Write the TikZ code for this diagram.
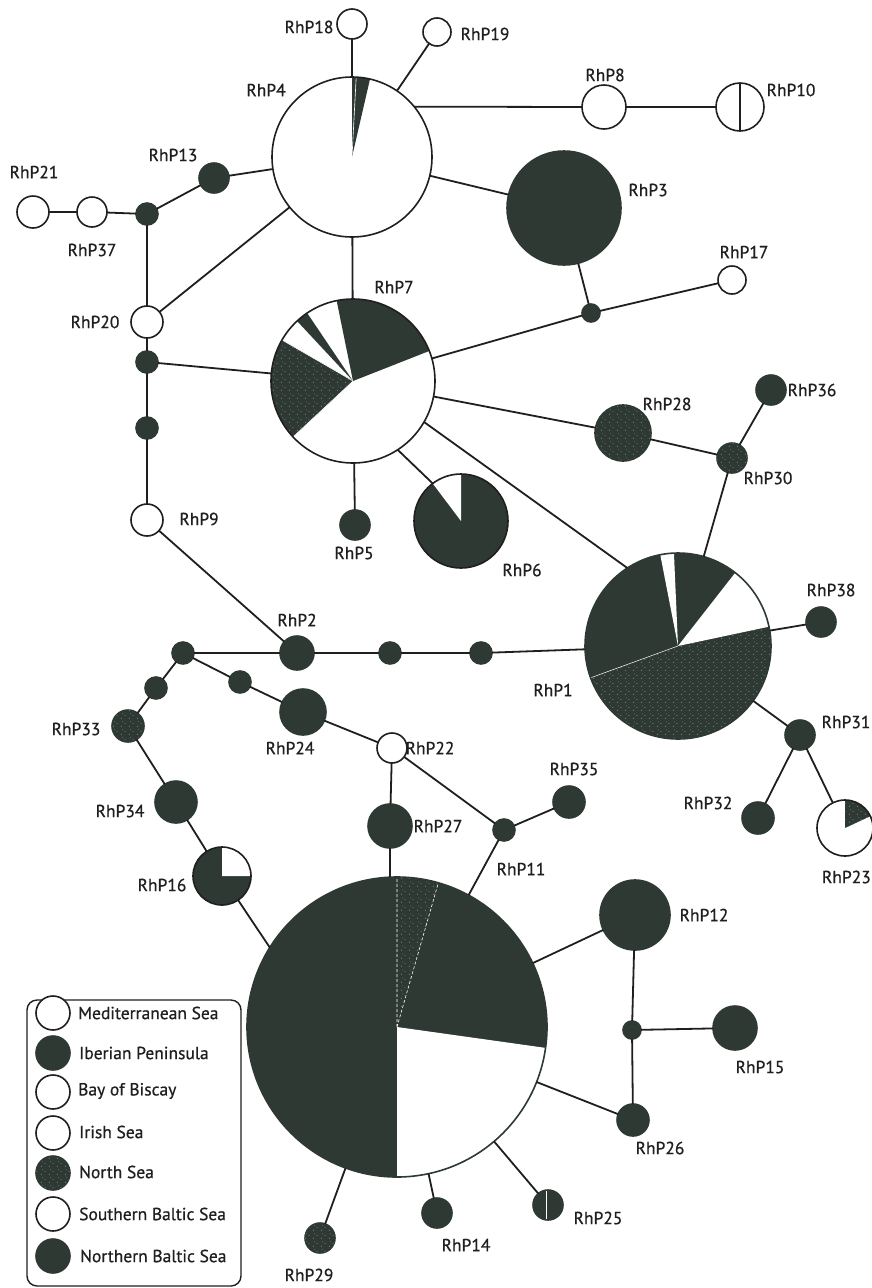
\documentclass[tikz,border=0pt]{standalone}
\usepackage{fontspec}
\setmainfont{PT Sans}
\newfontfamily\labfont{PT Sans}[FakeBold=0.6]
\usetikzlibrary{patterns}
\definecolor{dk}{HTML}{2E3934}
\definecolor{ln}{HTML}{1F1F1F}
\definecolor{spk}{HTML}{9AA19E}
\pgfdeclarepatternformonly{specks}{\pgfpointorigin}{\pgfpoint{8pt}{8pt}}{\pgfpoint{8pt}{8pt}}{%
  \pgfpathcircle{\pgfpoint{1.5pt}{2pt}}{0.55pt}%
  \pgfpathcircle{\pgfpoint{5.5pt}{5pt}}{0.5pt}%
  \pgfpathcircle{\pgfpoint{3pt}{6.8pt}}{0.4pt}%
  \pgfusepath{fill}}
\newcommand\slice[5]{\fill[#5] (#1.center) -- ++(#3:#2) arc[start angle=#3, end angle=#4, radius=#2] -- cycle;}
\tikzset{
  hap/.style={circle, inner sep=0pt, outer sep=0pt, line width=1.6pt},
  wh/.style={hap, draw=ln, fill=white},
  dkn/.style={hap, draw=dk, fill=dk},
  nsn/.style={hap, draw=dk, fill=dk, postaction={pattern=specks, pattern color=spk}},
  pien/.style={hap},
  ns/.style={fill=dk, postaction={pattern=specks, pattern color=spk}},
  edge/.style={line width=1.8pt, draw=ln},
  outl/.style={line width=1.6pt, draw=ln},
  lab/.style={font=\labfont\fontsize{17.5}{19}\selectfont, text=ln, inner sep=0pt},
  leg/.style={font=\labfont\fontsize{17.5}{19}\selectfont, text=ln, inner sep=0pt, anchor=west},
}
\begin{document}
\begin{tikzpicture}[x=1pt,y=1pt]
\useasboundingbox[fill=white] (0,0) rectangle (872,-1288);
% ---- haplotype nodes ----
\node[pien, minimum size=160pt, fill=white] (RhP4) at (352,-157) {};
\node[wh, minimum size=30pt] (RhP18) at (352,-24) {};
\node[wh, minimum size=28pt] (RhP19) at (437,-32) {};
\node[wh, minimum size=44pt] (RhP8) at (604,-107) {};
\node[wh, minimum size=48pt] (RhP10) at (740,-107) {};
\node[dkn, minimum size=114pt] (RhP3) at (564,-208) {};
\node[dkn, minimum size=30pt] (RhP13) at (214,-178) {};
\node[wh, minimum size=32pt] (RhP21) at (33,-212) {};
\node[wh, minimum size=30pt] (RhP37) at (92,-212) {};
\node[dkn, minimum size=22pt] (j1) at (147,-214) {};
\node[wh, minimum size=32pt] (RhP20) at (147,-322) {};
\node[dkn, minimum size=22pt] (j2) at (147,-362) {};
\node[dkn, minimum size=22pt] (j3) at (147,-428) {};
\node[wh, minimum size=32pt] (RhP9) at (147,-520) {};
\node[pien, minimum size=164pt, fill=white] (RhP7) at (353,-381) {};
\node[dkn, minimum size=18pt] (j4) at (591,-313) {};
\node[wh, minimum size=28pt] (RhP17) at (732,-280) {};
\node[nsn, minimum size=56pt] (RhP28) at (623,-433) {};
\node[nsn, minimum size=30pt] (RhP30) at (732,-458) {};
\node[dkn, minimum size=30pt] (RhP36) at (771,-390) {};
\node[dkn, minimum size=30pt] (RhP5) at (355,-525) {};
\node[pien, minimum size=94pt, fill=dk] (RhP6) at (461,-521) {};
\node[pien, minimum size=186pt, fill=dk] (RhP1) at (678,-646) {};
\node[dkn, minimum size=30pt] (RhP38) at (821,-622) {};
\node[dkn, minimum size=30pt] (RhP31) at (800,-735) {};
\node[dkn, minimum size=32pt] (RhP32) at (758,-818) {};
\node[pien, minimum size=56pt, fill=white] (RhP23) at (845,-828) {};
\node[dkn, minimum size=34pt] (RhP2) at (297,-653) {};
\node[dkn, minimum size=22pt] (j5) at (390,-653) {};
\node[dkn, minimum size=22pt] (j6) at (481,-653) {};
\node[dkn, minimum size=22pt] (j7) at (183,-653) {};
\node[dkn, minimum size=22pt] (j8) at (156,-688) {};
\node[nsn, minimum size=32pt] (RhP33) at (128,-726) {};
\node[dkn, minimum size=22pt] (j9) at (240,-682) {};
\node[dkn, minimum size=46pt] (RhP24) at (303,-712) {};
\node[wh, minimum size=30pt] (RhP22) at (392,-748) {};
\node[dkn, minimum size=42pt] (RhP34) at (176,-802) {};
\node[pien, minimum size=58pt, fill=dk] (RhP16) at (222,-876) {};
\node[dkn, minimum size=44pt] (RhP27) at (390,-826) {};
\node[dkn, minimum size=22pt] (j10) at (504,-830) {};
\node[dkn, minimum size=32pt] (RhP35) at (569,-802) {};
\node[pien, minimum size=300pt, fill=dk] (RhP11) at (397,-1027) {};
\node[dkn, minimum size=70pt] (RhP12) at (635,-915) {};
\node[dkn, minimum size=18pt] (j11) at (632,-1030) {};
\node[dkn, minimum size=44pt] (RhP15) at (735,-1028) {};
\node[dkn, minimum size=32pt] (RhP26) at (633,-1120) {};
\node[dkn, minimum size=30pt] (RhP25) at (548,-1205) {};
\node[dkn, minimum size=30pt] (RhP14) at (437,-1213) {};
\node[nsn, minimum size=30pt] (RhP29) at (320,-1238) {};
% ---- pie sectors ----
\slice{RhP4}{80pt}{77}{90}{dk}
\draw[white, line width=0.6pt] (RhP4.center) -- ++(87:80pt);
\slice{RhP7}{82pt}{21.5}{101.5}{dk}
\slice{RhP7}{82pt}{124}{133}{dk}
\slice{RhP7}{82pt}{150}{223}{ns}
\draw[white, line width=0.5pt] (RhP7.center) -- ++(150:82pt) (RhP7.center) -- ++(223:82pt);
\slice{RhP6}{47pt}{90}{127}{white}
\slice{RhP1}{93pt}{200}{372}{ns}
\slice{RhP1}{93pt}{12}{52}{white}
\slice{RhP1}{93pt}{92.5}{101}{white}
\draw[white, line width=0.5pt] (RhP1.center) -- ++(200:93pt);
\slice{RhP23}{28pt}{25}{90}{ns}
\slice{RhP16}{29pt}{0}{90}{white}
\slice{RhP11}{150pt}{270}{352}{white}
\slice{RhP11}{150pt}{74}{90}{ns}
\draw[white, line width=0.6pt, densely dashed] (RhP11.center) -- ++(74:150pt) (RhP11.center) -- ++(90:150pt);
\draw[white, line width=0.6pt] (RhP25.center) ++(-2pt,14pt) -- ++(0,-28pt);
% ---- outlines of pies ----
\draw[outl] (RhP4.center) circle[radius=80pt];
\draw[outl] (RhP7.center) circle[radius=82pt];
\draw[outl] (RhP6.center) circle[radius=47pt];
\draw[outl, draw=dk] (RhP1.center) circle[radius=93pt];
\draw[outl] (RhP23.center) circle[radius=28pt];
\draw[outl] (RhP16.center) circle[radius=29pt];
\draw[outl, draw=dk] (RhP11.center) circle[radius=150pt];
\draw[line width=1.2pt, ln] (RhP10.north) -- (RhP10.south);
% ---- connectors ----
\draw[edge] (RhP4) -- (RhP18);
\draw[edge] (RhP4) -- (RhP19);
\draw[edge] (RhP4.39) -- (RhP8.west);
\draw[edge] (RhP8) -- (RhP10);
\draw[edge] (RhP4) -- (RhP3);
\draw[edge] (RhP4) -- (RhP13);
\draw[edge] (RhP13) -- (j1);
\draw[edge] (j1) -- (RhP37);
\draw[edge] (RhP37) -- (RhP21);
\draw[edge] (j1) -- (RhP20);
\draw[edge] (RhP20) -- (RhP4);
\draw[edge] (RhP4) -- (RhP7);
\draw[edge] (RhP20) -- (j2);
\draw[edge] (j2) -- (RhP7);
\draw[edge] (j2) -- (j3);
\draw[edge] (j3) -- (RhP9);
\draw[edge] (RhP9) -- (RhP2);
\draw[edge] (RhP3) -- (j4);
\draw[edge] (j4) -- (RhP17);
\draw[edge] (RhP7) -- (j4);
\draw[edge] (RhP7) -- (RhP28);
\draw[edge] (RhP28) -- (RhP30);
\draw[edge] (RhP30) -- (RhP36);
\draw[edge] (RhP30) -- (RhP1);
\draw[edge] (RhP7.-57) -- (RhP6.127);
\draw[edge] (RhP7.-30) -- (RhP1.123);
\draw[edge] (RhP7) -- (RhP5);
\draw[edge] (RhP2) -- (j5);
\draw[edge] (j5) -- (j6);
\draw[edge] (j6) -- (RhP1);
\draw[edge] (RhP1) -- (RhP38);
\draw[edge] (RhP1) -- (RhP31);
\draw[edge] (RhP31) -- (RhP32);
\draw[edge] (RhP31) -- (RhP23);
\draw[edge] (RhP2) -- (j7);
\draw[edge] (j7) -- (j8);
\draw[edge] (j8) -- (RhP33);
\draw[edge] (RhP33) -- (RhP34);
\draw[edge] (RhP34) -- (RhP16);
\draw[edge] (j7) -- (j9);
\draw[edge] (j9) -- (RhP24);
\draw[edge] (RhP24) -- (RhP22);
\draw[edge] (RhP22) -- (RhP27);
\draw[edge] (RhP22) -- (j10);
\draw[edge] (j10) -- (RhP35);
\draw[edge] (j10) -- (RhP11);
\draw[edge] (RhP27) -- (RhP27 |- RhP11.north);
\draw[edge] (RhP11.148) -- (RhP16);
\draw[edge] (RhP11) -- (RhP12);
\draw[edge] (RhP12) -- (j11);
\draw[edge] (j11) -- (RhP15);
\draw[edge] (j11) -- (RhP26);
\draw[edge] (RhP11) -- (RhP26);
\draw[edge] (RhP11) -- (RhP25);
\draw[edge] (RhP11) -- (RhP14);
\draw[edge] (RhP11) -- (RhP29);
% ---- labels ----
\node[lab] (lRhP18) at (309,-27) {RhP18};
\node[lab] (lRhP19) at (485,-34) {RhP19};
\node[lab] (lRhP4) at (266,-90) {RhP4};
\node[lab] (lRhP8) at (605,-75) {RhP8};
\node[lab] (lRhP10) at (791,-90) {RhP10};
\node[lab] (lRhP13) at (173,-155) {RhP13};
\node[lab] (lRhP21) at (34,-172) {RhP21};
\node[lab] (lRhP37) at (92,-250) {RhP37};
\node[lab] (lRhP3) at (648,-190) {RhP3};
\node[lab] (lRhP17) at (744,-252) {RhP17};
\node[lab] (lRhP7) at (394,-287) {RhP7};
\node[lab] (lRhP20) at (95,-322) {RhP20};
\node[lab] (lRhP36) at (812,-390) {RhP36};
\node[lab] (lRhP28) at (667,-404) {RhP28};
\node[lab] (lRhP30) at (768,-478) {RhP30};
\node[lab] (lRhP9) at (199,-519) {RhP9};
\node[lab] (lRhP5) at (354,-553) {RhP5};
\node[lab] (lRhP6) at (522,-570) {RhP6};
\node[lab] (lRhP38) at (831,-590) {RhP38};
\node[lab] (lRhP2) at (297,-620) {RhP2};
\node[lab] (lRhP1) at (553,-690) {RhP1};
\node[lab] (lRhP33) at (76,-729) {RhP33};
\node[lab] (lRhP31) at (846,-722) {RhP31};
\node[lab] (lRhP24) at (290,-748) {RhP24};
\node[lab] (lRhP22) at (430,-748) {RhP22};
\node[lab] (lRhP35) at (574,-769) {RhP35};
\node[lab] (lRhP32) at (708,-803) {RhP32};
\node[lab] (lRhP34) at (120,-811) {RhP34};
\node[lab] (lRhP27) at (438,-826) {RhP27};
\node[lab, anchor=east] (lRhP23) at (871,-877) {RhP23};
\node[lab] (lRhP16) at (162,-885) {RhP16};
\node[lab] (lRhP11) at (521,-869) {RhP11};
\node[lab] (lRhP12) at (704,-915) {RhP12};
\node[lab] (lRhP15) at (760,-1067) {RhP15};
\node[lab] (lRhP26) at (660,-1148) {RhP26};
\node[lab] (lRhP25) at (598,-1218) {RhP25};
\node[lab] (lRhP14) at (466,-1245) {RhP14};
\node[lab] (lRhP29) at (309,-1275) {RhP29};
% ---- legend ----
\draw[line width=1.4pt, ln, rounded corners=10pt] (27,-1000) rectangle (241,-1286);
\node[wh, minimum size=34pt] (g1) at (53,-1013) {};
\node[dkn, minimum size=34pt] (g2) at (53,-1053) {};
\node[wh, minimum size=34pt] (g3) at (53,-1092) {};
\node[wh, minimum size=34pt] (g4) at (53,-1133) {};
\node[nsn, minimum size=34pt] (g5) at (53,-1173) {};
\node[wh, minimum size=34pt] (g6) at (53,-1214) {};
\node[dkn, minimum size=34pt] (g7) at (53,-1256) {};
\node[leg] (t1) at (78,-1013) {Mediterranean Sea};
\node[leg] (t2) at (79,-1053) {Iberian Peninsula};
\node[leg] (t3) at (78,-1091) {Bay of Biscay};
\node[leg] (t4) at (79,-1132) {Irish Sea};
\node[leg] (t5) at (79,-1172) {North Sea};
\node[leg] (t6) at (79,-1214) {Southern Baltic Sea};
\node[leg] (t7) at (80,-1256) {Northern Baltic Sea};
\end{tikzpicture}
\end{document}
